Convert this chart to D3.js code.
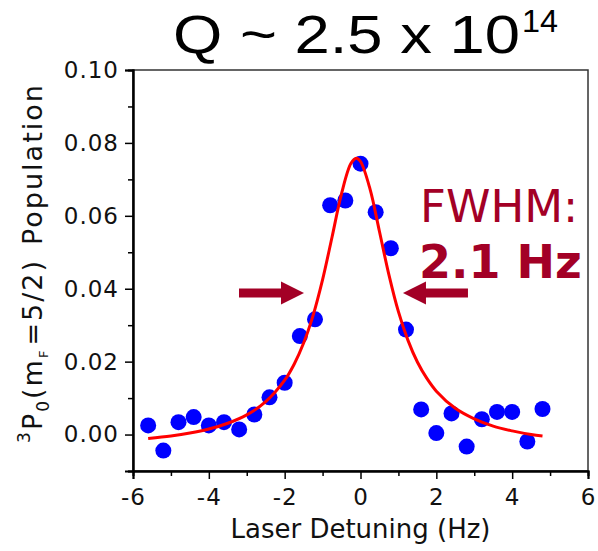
<!DOCTYPE html>
<html><head><meta charset="utf-8">
<script src="https://cdn.jsdelivr.net/npm/d3@7"></script>
<style>body{margin:0;background:#fff}svg{display:block}</style>
</head><body>
<svg id="c" width="598" height="551"></svg>
<script>
// Data
const detuning = [-5.6,-5.2,-4.8,-4.4,-4.0,-3.6,-3.2,-2.8,-2.4,-2.0,-1.6,-1.2,-0.8,-0.4,0.0,0.4,0.8,1.2,1.6,2.0,2.4,2.8,3.2,3.6,4.0,4.4,4.8];
const population = [0.0025,-0.0044,0.0034,0.0048,0.0025,0.0034,0.0014,0.0055,0.0102,0.0142,0.0270,0.0316,0.0629,0.0642,0.0743,0.0610,0.0511,0.0288,0.0069,0.0004,0.0058,-0.0033,0.0042,0.0062,0.0062,-0.0019,0.0070];
// Fit curve
const fitX = [-5.6,-5.0,-4.5,-4.0,-3.5,-3.0,-2.5,-2.0,-1.75,-1.5,-1.25,-1.0,-0.75,-0.5,-0.25,-0.11,0.0,0.25,0.5,0.75,1.0,1.25,1.5,1.75,2.0,2.5,3.0,3.5,4.0,4.5,4.8];
const fitY = [-0.0011,-0.0004,0.0004,0.0015,0.0031,0.0054,0.0090,0.0149,0.0193,0.0251,0.0327,0.0425,0.0542,0.0661,0.0744,0.0758,0.0749,0.0674,0.0557,0.0438,0.0337,0.0259,0.0199,0.0154,0.0119,0.0072,0.0043,0.0023,0.0010,0.0000,-0.0004];
const xTicks = [-6,-4,-2,0,2,4,6];
const xMinor = [-5,-3,-1,1,3,5];
const yTicks = [0.00,0.02,0.04,0.06,0.08,0.10];
const yMinor = [-0.01,0.01,0.03,0.05,0.07,0.09];
const titleText = "Q ~ 2.5 x 10";
const titleExp = "14";
const xLabel = "Laser Detuning (Hz)";
const fwhmLabel = "FWHM:";
const fwhmValue = "2.1 Hz";
const arrowTips = [-1.49, 1.12]; // arrow tip positions (Hz)
const arrowLevel = 0.0388;        // arrow height (population)

const svg = d3.select("#c");
const L=133,R=588,T=70,B=471;
const x = d3.scaleLinear().domain([-6,6]).range([L,R]);
const y = d3.scaleLinear().domain([-0.01,0.10]).range([B,T]);
const tickFont = "'DejaVu Sans', Verdana, sans-serif";
const dark = "#a30026";

// frame
svg.append("rect").attr("x",L).attr("y",T).attr("width",R-L).attr("height",B-T)
  .attr("fill","none").attr("stroke","#333").attr("stroke-width",1.5);

// axes
const gy = svg.append("g").attr("transform",`translate(${L},0)`)
  .call(d3.axisLeft(y).tickValues(yTicks).tickSize(8).tickPadding(6).tickFormat(d3.format(".2f")));
const gyMinor = svg.append("g").attr("transform",`translate(${L},0)`)
  .call(d3.axisLeft(y).tickValues(yMinor).tickSize(5).tickFormat(""));
const gx = svg.append("g").attr("transform",`translate(0,${B})`)
  .call(d3.axisBottom(x).tickValues(xTicks).tickSize(8).tickPadding(10).tickFormat(d3.format("d")));
const gxMinor = svg.append("g").attr("transform",`translate(0,${B})`)
  .call(d3.axisBottom(x).tickValues(xMinor).tickSize(5).tickFormat(""));
[gy,gyMinor,gx,gxMinor].forEach(g=>{
  g.select(".domain").attr("stroke","#000").attr("stroke-width",2);
  g.selectAll(".tick line").attr("stroke","#000").attr("stroke-width",1.5);
  g.selectAll("text").attr("font-family",tickFont).attr("font-size",23).attr("fill","#111").attr("letter-spacing","1px");
});
gx.selectAll(".tick text").text(d=>d<0?"-"+Math.abs(d):String(d));

// points
svg.append("g").selectAll("circle").data(detuning.map((d,i)=>[d,population[i]])).join("circle")
  .attr("cx",d=>x(d[0])).attr("cy",d=>y(d[1])).attr("r",8).attr("fill","#0000ff");

// fit
svg.append("path").datum(fitX.map((d,i)=>[d,fitY[i]]))
  .attr("d",d3.line().x(d=>x(d[0])).y(d=>y(d[1])).curve(d3.curveCatmullRom))
  .attr("fill","none").attr("stroke","#ff0000").attr("stroke-width",3);

// arrows
function arrow(tipX, dir){
  const ty = y(arrowLevel);
  const headLen=23, headHalf=11.5, shaftHalf=4.5, shaftLen=42;
  const p = [[0,0],[-headLen,-headHalf],[-headLen,-shaftHalf],[-headLen-shaftLen,-shaftHalf],
             [-headLen-shaftLen,shaftHalf],[-headLen,shaftHalf],[-headLen,headHalf]];
  svg.append("path").attr("d","M"+p.map(q=>[tipX+dir*q[0],ty+q[1]].join(",")).join("L")+"Z").attr("fill",dark);
}
arrow(x(arrowTips[0]), 1);
arrow(x(arrowTips[1]), -1);

// FWHM text
svg.append("text").attr("x",420).attr("y",222).attr("font-family",tickFont).attr("font-size",45)
  .attr("fill",dark).text(fwhmLabel);
svg.append("text").attr("x",419).attr("y",278).attr("font-family",tickFont).attr("font-size",46)
  .attr("font-weight","bold").attr("fill",dark).text(fwhmValue);

// title
svg.append("text").attr("x",173).attr("y",53).attr("font-family","'Liberation Sans', Arial, sans-serif")
  .attr("font-size",54).attr("fill","#000").attr("textLength",347).attr("lengthAdjust","spacingAndGlyphs")
  .text(titleText);
svg.append("text").attr("x",522).attr("y",32).attr("font-family","'Liberation Sans', Arial, sans-serif")
  .attr("font-size",31).attr("fill","#000").attr("textLength",36).attr("lengthAdjust","spacingAndGlyphs")
  .text(titleExp);

// x label
svg.append("text").attr("x",360.5).attr("y",538).attr("text-anchor","middle").attr("font-family",tickFont)
  .attr("font-size",26).attr("fill","#111").text(xLabel);

// y label
const yl = svg.append("text").attr("transform","translate(42,263) rotate(-90)").attr("text-anchor","middle")
  .attr("font-family",tickFont).attr("font-size",27).attr("fill","#111").attr("letter-spacing","2px");
yl.append("tspan").attr("font-size",17).attr("dy",-12).text("3");
yl.append("tspan").attr("dy",12).text("P");
yl.append("tspan").attr("font-size",17).attr("dy",7).text("0");
yl.append("tspan").attr("dy",-7).text("(m");
yl.append("tspan").attr("font-size",13).attr("dy",6).text("F");
yl.append("tspan").attr("dy",-6).attr("dx",3).text("=5/2)");
yl.append("tspan").attr("dx",14).text("Population");
</script>
</body></html>
